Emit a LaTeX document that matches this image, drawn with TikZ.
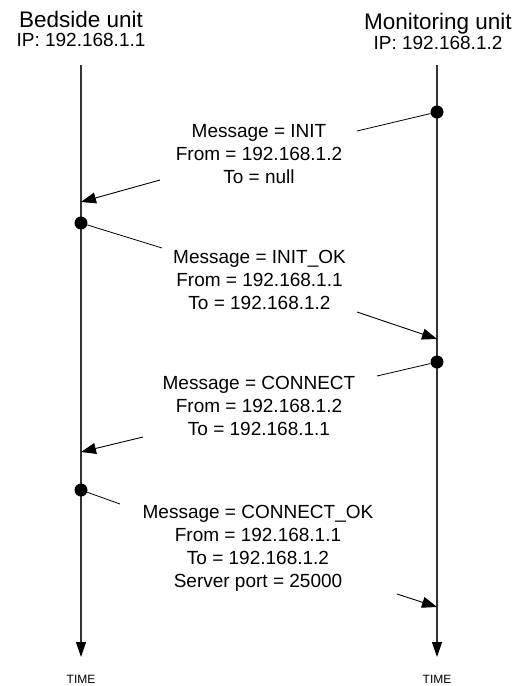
\documentclass[tikz,border=0pt]{standalone}
\usepackage{fontspec}
\setmainfont{Liberation Sans}
\usetikzlibrary{arrows.meta,positioning}
\tikzstyle{arrow} = [line width=0.9pt,-{Triangle[length=15pt,width=11pt]}]
\tikzstyle{lifeline} = [line width=1.2pt,draw=black!80,-{Triangle[length=15pt,width=10pt,color=black]}]

\begin{document}
\begin{tikzpicture}[x=1pt, y=-1pt,
    title_node/.style={anchor=base, font=\fontsize{22.5}{26}\selectfont},
    ip_node/.style={anchor=base, font=\fontsize{19}{23}\selectfont},
    msg_node/.style={anchor=north, align=center, inner sep=0pt, font=\fontsize{19}{23}\selectfont},
    dot_node/.style={circle, fill=black, minimum size=13pt, inner sep=0pt},
    time_node/.style={anchor=base, font=\fontsize{12}{14}\selectfont}]

    \useasboundingbox (0,0) rectangle (523,686);

    % Units
    \node[title_node] (bed) at (81,27) {Bedside unit};
    \node[ip_node] (bedip) at (81,46) {IP: 192.168.1.1};
    \node[title_node] (mon) at (438,29) {Monitoring unit};
    \node[ip_node] (monip) at (438,49) {IP: 192.168.1.2};

    % Lifelines
    \coordinate (bedtop) at (81,65);
    \coordinate (bedend) at (81,657);
    \coordinate (montop) at (437,65);
    \coordinate (monend) at (437,657);
    \draw[lifeline] (bedtop) -- (bedend);
    \draw[lifeline] (montop) -- (monend);
    \node[time_node] (bedtime) at (81,683) {TIME};
    \node[time_node] (montime) at (437,683) {TIME};

    % Messages
    \node[dot_node] (init) at (437,112) {};
    \node[msg_node] (initmsg) at (259,124.4) {Message = INIT\\From = 192.168.1.2\\To = null};
    \coordinate (init_a) at (357,131);
    \coordinate (init_b) at (160,180);
    \coordinate (init_c) at (81,202);
    \draw[thick] (init) -- (init_a);
    \draw[arrow] (init_b) -- (init_c);

    \node[dot_node] (initok) at (81,223) {};
    \node[msg_node] (initokmsg) at (259.5,250.4) {Message = INIT\_OK\\From = 192.168.1.1\\To = 192.168.1.2};
    \coordinate (initok_a) at (162,248);
    \coordinate (initok_b) at (357,312);
    \coordinate (initok_c) at (437,339);
    \draw[thick] (initok) -- (initok_a);
    \draw[arrow] (initok_b) -- (initok_c);

    \node[dot_node] (conn) at (437,362) {};
    \node[msg_node] (connmsg) at (259,376.4) {Message = CONNECT\\From = 192.168.1.2\\To = 192.168.1.1};
    \coordinate (conn_a) at (377,376);
    \coordinate (conn_b) at (143,437);
    \coordinate (conn_c) at (81,452);
    \draw[thick] (conn) -- (conn_a);
    \draw[arrow] (conn_b) -- (conn_c);

    \node[dot_node] (connok) at (81,490) {};
    \node[msg_node] (connokmsg) at (258,505.4) {Message = CONNECT\_OK\\From = 192.168.1.1\\To = 192.168.1.2\\Server port = 25000};
    \coordinate (connok_a) at (120,504);
    \coordinate (connok_b) at (397,594);
    \coordinate (connok_c) at (437,607);
    \draw[thick] (connok) -- (connok_a);
    \draw[arrow] (connok_b) -- (connok_c);
\end{tikzpicture}
\end{document}
